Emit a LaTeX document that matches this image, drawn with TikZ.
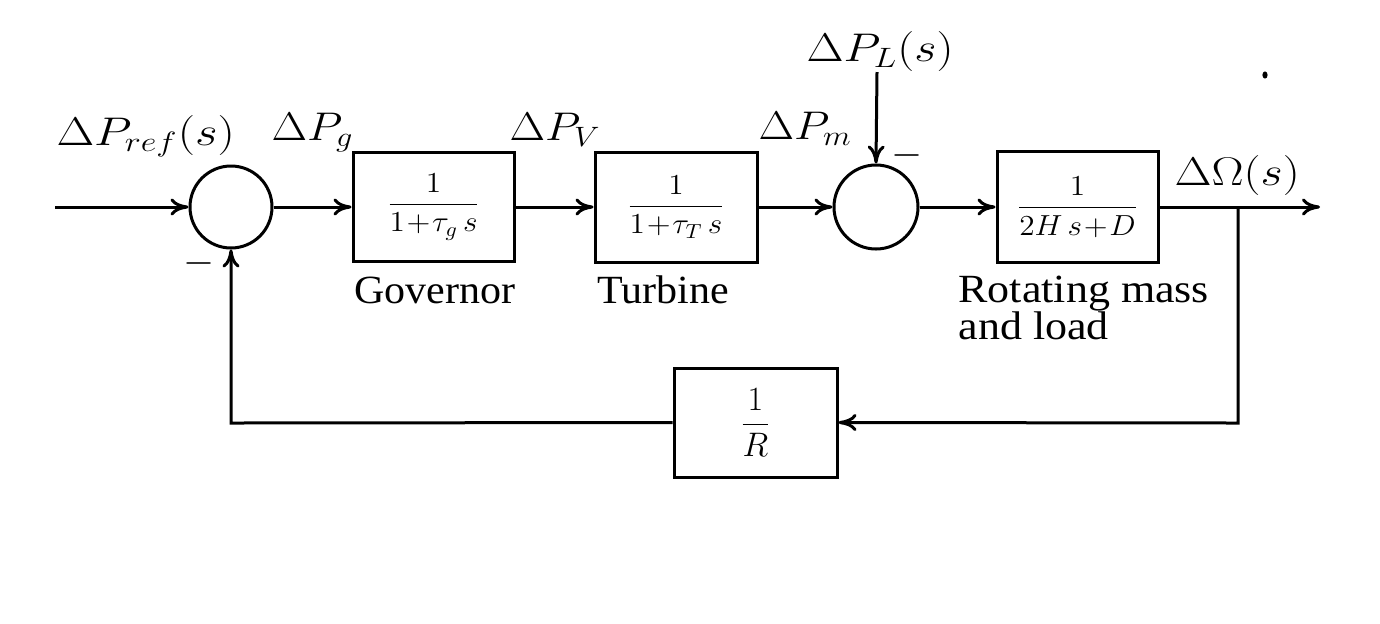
\RequirePackage{fix-cm}
\documentclass[tikz,border=0pt]{standalone}
\usepackage[no-math]{fontspec}
\usepackage{graphicx}
\newfontfamily\tmfont{Liberation Serif}
\newcommand{\widemath}[2][1.2]{\scalebox{#1}[1]{#2}}
\usetikzlibrary{arrows.meta}
\begin{document}
\begin{tikzpicture}[x=0.5pt,y=-0.5pt,
  line width=1.5pt,
  >={To[length=9pt,width=8.5pt]},
  blk/.style={draw,rectangle,inner sep=0pt,minimum width=80.5pt,minimum height=54.5pt},
  sumn/.style={draw,circle,inner sep=0pt,minimum size=41pt},
  lbl/.style={font=\fontsize{20}{24}\selectfont,inner sep=0pt},
  txt/.style={font=\fontsize{20}{18.5}\selectfont\tmfont,inner sep=0pt},
  fr/.style={font=\fontsize{14.5}{16}\selectfont}
]
\useasboundingbox (0,0) rectangle (1380,623);
% blocks
\node[sumn] (s1) at (231,207) {};
\node[blk,fr] (gov) at (433.5,207) {\widemath[1.08]{$\displaystyle\frac{1}{1\!+\!\tau_g\,s}$}};
\node[blk,fr,minimum width=81pt,minimum height=55pt] (tur) at (676,207) {\widemath[1.08]{$\displaystyle\frac{1}{1\!+\!\tau_T\,s}$}};
\node[sumn,minimum size=42pt] (s2) at (876,207) {};
\node[blk,fr,minimum height=55.5pt] (rot) at (1077.5,207) {\widemath[1.08]{$\displaystyle\frac{1}{2H\,s\!+\!D}$}};
\node[blk,font=\fontsize{17}{18}\selectfont,minimum width=81.5pt] (fb) at (755.5,422.5) {$\displaystyle\frac{1}{R}$};
% coordinates
\coordinate (in) at (55,207);
\coordinate (out) at (1320,207);
\coordinate (br) at (1238,207);
\coordinate (brd) at (1238,423);
\coordinate (fbl) at (231,423);
\coordinate (pl) at (877,72);
% connectors
\draw[->] (in) -- (s1.west);
\draw[->] (s1.east) -- (gov.west);
\draw[->] (gov.east) -- (tur.west);
\draw[->] (tur.east) -- (s2.west);
\draw[->] (s2.east) -- (rot.west);
\draw[->] (rot.east) -- (out);
\draw[->] (br) -- (brd) -- (fb.east);
\draw[->] (fb.west) -- (fbl) -- (s1.south);
\draw[->] (pl) -- (s2.north);
% signal labels
\node[lbl,anchor=base west] (lref) at (55,145) {\widemath[1.22]{$\Delta P_{ref}(s)$}};
\node[lbl,anchor=base west] (lg) at (270,140) {\widemath[1.15]{$\Delta P_g$}};
\node[lbl,anchor=base west] (lv) at (508,140) {\widemath[1.15]{$\Delta P_V$}};
\node[lbl,anchor=base west] (lm) at (757,139) {\widemath[1.15]{$\Delta P_m$}};
\node[lbl,anchor=base west] (ll) at (805,61) {\widemath[1.2]{$\Delta P_L(s)$}};
\node[lbl,anchor=base west] (lo) at (1173,185) {\widemath[1.2]{$\Delta\Omega(s)$}};
\node[lbl] (m1) at (199,263) {$-$};
\node[lbl] (m2) at (907,155) {$-$};
% block names
\node[txt,anchor=base] (tg) at (435,303) {\widemath[1.05]{Governor}};
\node[txt,anchor=base] (tt) at (663,303) {\widemath[1.05]{Turbine}};
\node[txt,anchor=base west,align=left] (tr) at (957,339) {\widemath[1.1]{Rotating mass}\\\widemath[1.1]{and load}};
% speck
\fill (1265,75) ellipse (1.3pt and 1.8pt);
\end{tikzpicture}
\end{document}
